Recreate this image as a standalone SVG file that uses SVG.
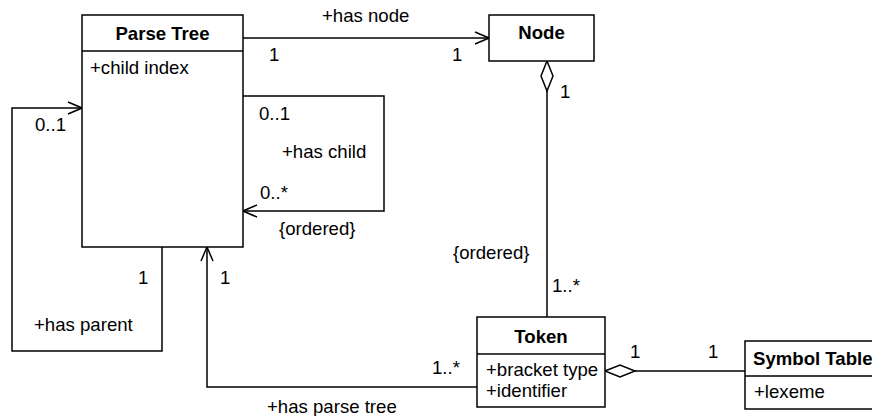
<svg xmlns="http://www.w3.org/2000/svg" width="872" height="416" viewBox="0 0 872 416">
<defs>
<style>
text{font-family:"Liberation Sans",Arial,sans-serif;font-size:18.6px;fill:#000}
.t{font-weight:bold;text-anchor:middle}
.box{fill:#fff;stroke:#000;stroke-width:1.5}
.ln{fill:none;stroke:#000;stroke-width:1.5}
.dia{fill:#fff;stroke:#000;stroke-width:1.5}
</style>
<marker id="open" markerWidth="16" markerHeight="14" refX="15" refY="7" orient="auto" markerUnits="userSpaceOnUse">
<path d="M1,1 L15,7 L1,13" fill="none" stroke="#000" stroke-width="1.5"/>
</marker>
</defs>
<rect width="872" height="416" fill="#fff"/>
<g id="connectors">
<path class="ln" d="M243,38 L489,38" marker-end="url(#open)"/>
<path class="ln" d="M243,96 L384,96 L384,211 L243,211" marker-end="url(#open)"/>
<path class="ln" d="M162,247 L162,351 L12,351 L12,108 L82,108" marker-end="url(#open)"/>
<path class="ln" d="M477,387 L207,387 L207,247" marker-end="url(#open)"/>
<path class="ln" d="M547,91 L547,317"/>
<path class="dia" d="M547,61 L553,76 L547,91 L541,76 Z"/>
<path class="ln" d="M635,371 L745,371"/>
<path class="dia" d="M605,371 L620,365 L635,371 L620,377 Z"/>
<text x="322" y="22">+has node</text>
<text x="269" y="61">1</text>
<text x="452" y="61">1</text>
<text x="560" y="98">1</text>
<text x="259" y="120">0..1</text>
<text x="282" y="158">+has child</text>
<text x="260" y="199">0..*</text>
<text x="279" y="235">{ordered}</text>
<text x="35" y="131">0..1</text>
<text x="138" y="284">1</text>
<text x="220" y="284">1</text>
<text x="34" y="331">+has parent</text>
<text x="267" y="413">+has parse tree</text>
<text x="432" y="374">1..*</text>
<text x="453" y="259">{ordered}</text>
<text x="552" y="292">1..*</text>
<text x="630" y="358">1</text>
<text x="708" y="358">1</text>
</g>
<g id="parse-tree">
<rect class="box" x="82" y="15" width="161" height="232"/>
<line class="ln" x1="82" y1="51" x2="243" y2="51"/>
<text class="t" x="162.5" y="40">Parse Tree</text>
<text x="90" y="74">+child index</text>
</g>
<g id="node">
<rect class="box" x="489" y="15" width="105" height="46"/>
<text class="t" x="541.5" y="39">Node</text>
</g>
<g id="token">
<rect class="box" x="477" y="317" width="128" height="90"/>
<line class="ln" x1="477" y1="354" x2="605" y2="354"/>
<text class="t" x="541" y="343">Token</text>
<text x="486" y="376">+bracket type</text>
<text x="486" y="397">+identifier</text>
</g>
<g id="symbol-table">
<rect class="box" x="745" y="341" width="135" height="68"/>
<line class="ln" x1="745" y1="376" x2="880" y2="376"/>
<text x="753" y="365" font-weight="bold">Symbol Table</text>
<text x="754" y="398">+lexeme</text>
</g>
</svg>
